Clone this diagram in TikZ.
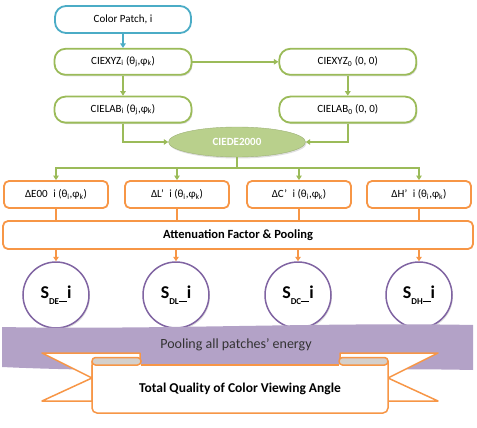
\documentclass[tikz,border=0pt]{standalone}
\usepackage{fontspec}
\setmainfont{Carlito}
\usetikzlibrary{shapes.geometric, arrows.meta, positioning, shadows, calc}
\definecolor{patchblue}{HTML}{4BACC6}
\definecolor{cieGreen}{HTML}{9BBB59}
\definecolor{ciedeFill}{HTML}{B9D08C}
\definecolor{attOrange}{HTML}{F79646}
\definecolor{sPurple}{HTML}{8064A2}
\definecolor{bandFill}{HTML}{B3A2C7}
\definecolor{foldGray}{HTML}{D4D0CC}
\newcommand{\sname}[1]{\fontsize{18}{20}\selectfont\bfseries S\raisebox{-6pt}{\fontsize{9}{10}\selectfont #1\rule[2.2pt]{8pt}{1.1pt}}i}

\begin{document}
\begin{tikzpicture}[
    x=1pt, y=-1pt,
    font=\fontsize{11}{13}\selectfont,
    >={Triangle[length=4.5pt,width=5.5pt]},
    softshadow/.style={drop shadow={shadow xshift=1pt, shadow yshift=-1.5pt, opacity=0.25}},
    patchbox/.style={draw=patchblue, line width=1.8pt, rounded corners=11pt,
      fill=white, minimum width=136pt, minimum height=27pt},
    ciebox/.style={draw=cieGreen, line width=1.8pt, rounded corners=11pt,
      fill=white, minimum width=137pt, minimum height=26pt, softshadow},
    deltabox/.style={draw=attOrange, line width=1.8pt, rounded corners=5pt,
      fill=white, minimum width=104pt, minimum height=27pt},
    sball/.style={draw=sPurple, line width=1.5pt, circle, fill=white,
      minimum size=66pt, inner sep=0pt, softshadow},
    barrow/.style={draw=patchblue, line width=2pt, ->},
    garrow/.style={draw=cieGreen, line width=2pt, ->},
    gline/.style={draw=cieGreen, line width=2pt},
    oarrow/.style={draw=attOrange, line width=2pt, ->},
    oline/.style={draw=attOrange, line width=2pt},
    ribline/.style={draw=attOrange, line width=1.5pt, line join=round}
]
\useasboundingbox (0,0) rectangle (477,428);

\node[patchbox] (patch) at (123,19.5) {Color Patch, i};
\node[ciebox, below=14pt of patch] (xyzi) {CIEXYZ\textsubscript{i} (θ\textsubscript{j},φ\textsubscript{k})};
\node[ciebox, below=20pt of xyzi] (labi) {CIELAB\textsubscript{i} (θ\textsubscript{j},φ\textsubscript{k})};
\node[ciebox, right=86pt of xyzi] (xyzo) {CIEXYZ\textsubscript{0} (0, 0)};
\node[ciebox, below=20pt of xyzo] (labo) {CIELAB\textsubscript{0} (0, 0)};
\node[ellipse, fill=ciedeFill, draw=ciedeFill!85!black, line width=0.4pt,
  minimum width=137pt, minimum height=30pt, inner sep=0pt, softshadow,
  text=white, font=\fontsize{11}{13}\selectfont\bfseries] (ciede) at (237,142) {CIEDE2000};
\coordinate (bus) at (237,168);

\node[deltabox] (de) at (56,194.5) {ΔE00\enspace i (θ\textsubscript{i},φ\textsubscript{k})};
\node[deltabox] (dl) at (177,194.5) {ΔL’\enspace i (θ\textsubscript{i},φ\textsubscript{k})};
\node[deltabox] (dc) at (299,194.5) {ΔC’\enspace i (θ\textsubscript{i},φ\textsubscript{k})};
\node[deltabox] (dh) at (419,194.5) {ΔH’\enspace i (θ\textsubscript{i},φ\textsubscript{k})};
\node[deltabox, minimum width=470pt, minimum height=28pt,
  font=\fontsize{12.5}{14}\selectfont\bfseries] (atten) at (238,235) {Attenuation Factor \& Pooling};

\node[sball] (sde) at (56,295) {\sname{DE}};
\node[sball] (sdl) at (176,295) {\sname{DL}};
\node[sball] (sdc) at (298,295) {\sname{DC}};
\node[sball] (sdh) at (419,295) {\sname{DH}};

\draw[barrow] (patch) -- (xyzi);
\draw[garrow] (xyzi) -- (xyzo);
\draw[garrow] (xyzi) -- (labi);
\draw[garrow] (xyzo) -- (labo);
\draw[garrow] (labi.south) |- (ciede.west);
\draw[garrow] (labo.south) |- (ciede.east);
\draw[gline] (ciede.south) -- (bus);
\draw[garrow] (bus) -| (de.north);
\draw[garrow] (bus) -| (dl.north);
\draw[garrow] (bus) -| (dc.north);
\draw[garrow] (bus) -| (dh.north);
\draw[oline] (de.south) -- (de.south |- atten.north);
\draw[oline] (dl.south) -- (dl.south |- atten.north);
\draw[oline] (dc.south) -- (dc.south |- atten.north);
\draw[oline] (dh.south) -- (dh.south |- atten.north);
\draw[oarrow] (atten.south -| sde.north) -- (sde.north);
\draw[oarrow] (atten.south -| sdl.north) -- (sdl.north);
\draw[oarrow] (atten.south -| sdc.north) -- (sdc.north);
\draw[oarrow] (atten.south -| sdh.north) -- (sdh.north);

% pooling band and ribbon
\fill[bandFill] (2,327) .. controls (150,330) and (330,322) .. (473,325)
  -- (473,370) .. controls (330,367) and (150,374) .. (2,367) -- cycle;
\node[text=black!80, font=\fontsize{14}{16}\selectfont] (pool) at (236,345) {Pooling all patches’ energy};
\draw[ribline, fill=white] (92,365) -- (92,401) -- (42,401) -- (92,378) -- (42,353) -- (140,353) -- (140,365);
\draw[ribline, fill=white] (388,365) -- (388,401) -- (438,401) -- (388,378) -- (438,353) -- (340,353) -- (340,365);
\fill[white] (92,364) rectangle (388,413);
\draw[ribline, fill=foldGray, rounded corners=3.5pt] (92,357.5) rectangle (141,365);
\draw[ribline, fill=foldGray, rounded corners=3.5pt] (339,357.5) rectangle (388,365);
\draw[ribline, rounded corners=5pt] (92,361) -- (92,413) -- (388,413) -- (388,361);
\draw[ribline] (141,365) -- (339,365);
\node[font=\fontsize{13.5}{16}\selectfont\bfseries] (total) at (240,389) {Total Quality of Color Viewing Angle};
\end{tikzpicture}
\end{document}
